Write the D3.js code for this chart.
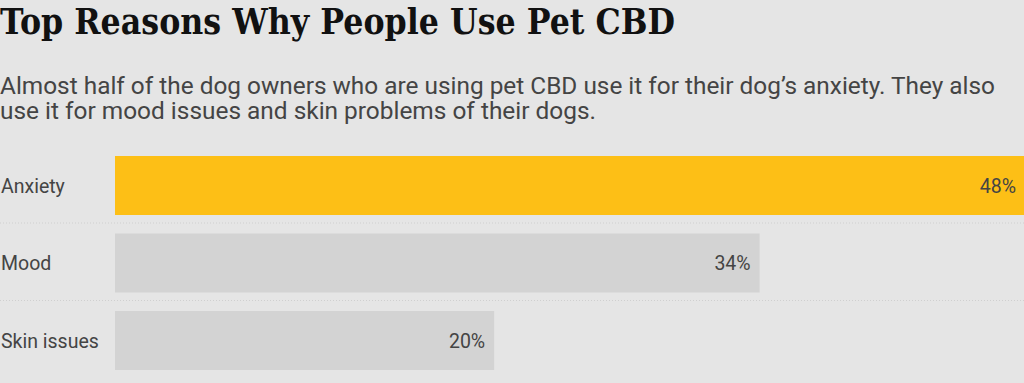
<!DOCTYPE html>
<html>
<head>
<meta charset="utf-8">
<script src="https://cdn.jsdelivr.net/npm/d3@7"></script>
<style>
  html, body { margin: 0; padding: 0; background: #e5e5e5; overflow: hidden; }
  text { font-family: Roboto, sans-serif; }
</style>
</head>
<body>
<div id="chart"></div>
<script>
var categories = ["Anxiety", "Mood", "Skin issues"];
var values = [48, 34, 20];
var highlight = ["Anxiety"];
var title = "Top Reasons Why People Use Pet CBD";
var subtitle = [
  "Almost half of the dog owners who are using pet CBD use it for their dog\u2019s anxiety. They also",
  "use it for mood issues and skin problems of their dogs."
];

var width = 1024, height = 383;

var svg = d3.select("#chart").append("svg")
  .attr("width", width)
  .attr("height", height);

svg.append("rect")
  .attr("width", width)
  .attr("height", height)
  .attr("fill", "#e5e5e5");

// title + subtitle
svg.append("text")
  .attr("x", 0)
  .attr("y", 34)
  .attr("textLength", 675)
  .attr("lengthAdjust", "spacingAndGlyphs")
  .style("font-family", "'DejaVu Serif', serif")
  .style("font-weight", "bold")
  .style("font-size", "35px")
  .attr("fill", "#111")
  .text(title);

var subLengths = [995, 596];
svg.selectAll("text.sub")
  .data(subtitle)
  .enter()
  .append("text")
  .attr("class", "sub")
  .attr("x", 0)
  .attr("y", function(d, i) { return 94 + i * 24.5; })
  .attr("textLength", function(d, i) { return subLengths[i]; })
  .attr("lengthAdjust", "spacingAndGlyphs")
  .style("font-size", "23px")
  .attr("fill", "#444")
  .text(function(d) { return d; });

// scales
var xScale = d3.scaleLinear()
  .domain([0, 48])
  .range([115, 1025]);

var yScale = d3.scaleBand()
  .domain(categories)
  .range([146.75, 379.25])
  .paddingInner(0.2387)
  .paddingOuter(0.2387 / 2);

var data = categories.map(function(c, i) { return {name: c, value: values[i]}; });

// dotted separators
svg.selectAll("line.sep")
  .data(categories.slice(0, -1))
  .enter()
  .append("line")
  .attr("class", "sep")
  .attr("x1", 0)
  .attr("x2", width)
  .attr("y1", function(d) { return yScale(d) + yScale.bandwidth() + 8; })
  .attr("y2", function(d) { return yScale(d) + yScale.bandwidth() + 8; })
  .attr("stroke", "#cfcfcf")
  .attr("stroke-width", 1)
  .attr("stroke-dasharray", "1,2");

svg.selectAll("rect.bar")
  .data(data)
  .enter()
  .append("rect")
  .attr("class", "bar")
  .attr("x", xScale(0))
  .attr("y", function(d) { return yScale(d.name); })
  .attr("width", function(d) { return xScale(d.value) - xScale(0); })
  .attr("height", yScale.bandwidth())
  .attr("fill", function(d) { return highlight.indexOf(d.name) >= 0 ? "#fdbf16" : "#d3d3d3"; });

svg.selectAll("text.cat")
  .data(data)
  .enter()
  .append("text")
  .attr("class", "cat")
  .attr("x", 1)
  .attr("y", function(d) { return yScale(d.name) + yScale.bandwidth() / 2; })
  .attr("dy", "0.36em")
  .style("font-size", "19.5px")
  .attr("fill", "#444")
  .text(function(d) { return d.name; });

svg.selectAll("text.val")
  .data(data)
  .enter()
  .append("text")
  .attr("class", "val")
  .attr("x", function(d) { return xScale(d.value) - 9; })
  .attr("y", function(d) { return yScale(d.name) + yScale.bandwidth() / 2; })
  .attr("dy", "0.36em")
  .attr("text-anchor", "end")
  .style("font-size", "19.5px")
  .attr("fill", "#444")
  .text(function(d) { return d.value + "%"; });
</script>
</body>
</html>
